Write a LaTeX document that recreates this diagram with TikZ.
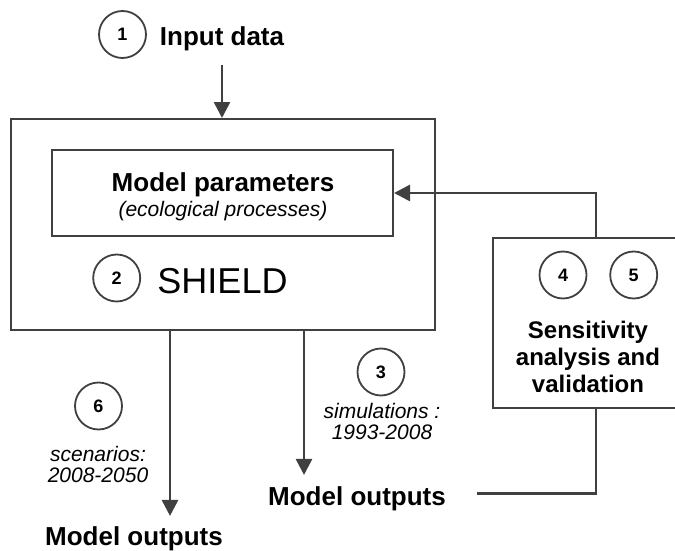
\documentclass[tikz,border=0pt]{standalone}
\usepackage{fontspec}
\setmainfont{Liberation Sans}
\usetikzlibrary{arrows.meta}
\definecolor{linegray}{HTML}{404040}

\tikzset{
  numcirc/.style={circle, draw=linegray, line width=1.8pt, minimum size=47pt, inner sep=0pt, font=\fontsize{18}{18}\selectfont\bfseries},
  frame/.style={rectangle, draw=linegray, line width=2pt, inner sep=0pt},
  head/.style={inner sep=0pt, anchor=base, font=\fontsize{26}{27}\selectfont\bfseries},
  note/.style={inner sep=0pt, anchor=base, align=center, font=\fontsize{21}{21}\selectfont\itshape},
  flow/.style={draw=linegray, line width=2.7pt, -{Triangle[width=16pt,length=16pt]}},
  link/.style={draw=linegray, line width=2.7pt},
}

\begin{document}
\begin{tikzpicture}[x=1pt, y=-1pt]
  \useasboundingbox (0,0) rectangle (675,551);
  % Boxes
  \node[frame, minimum width=424pt, minimum height=211pt] (model) at (223,224.5) {};
  \node[frame, minimum width=341pt, minimum height=86pt] (params) at (222.5,193) {};
  \node[frame, minimum width=187pt, minimum height=170pt] (sens) at (586.5,322.5) {};
  % Texts
  \node[head] (input) at (222,46) {Input data};
  \node[head] (paramtxt) at (223,191) {Model parameters};
  \node[note] (ecotxt) at (223,216) {(ecological processes)};
  \node[inner sep=0pt, anchor=base, font=\fontsize{36}{36}\selectfont] (shield) at (222.5,293) {SHIELD};
  \node[head, align=center, font=\fontsize{24}{27}\selectfont\bfseries] (senstxt) at (588,392) {Sensitivity\\analysis and\\validation};
  \node[note] (simtxt) at (382,439) {simulations :\\1993-2008};
  \node[note] (scentxt) at (98,482) {scenarios:\\2008-2050};
  \node[head] (simout) at (357,505) {Model outputs};
  \node[head] (scenout) at (134,545) {Model outputs};
  % Step numbers
  \foreach \n/\x/\y in {1/122.5/34.5, 2/116.7/278, 3/381/372, 4/563/275, 5/633.7/275, 6/98.5/406}
    \node[numcirc] (c\n) at (\x,\y) {\n};
  % Connections
  \coordinate (scenx) at (170,0);
  \coordinate (simx) at (304,0);
  \coordinate (fbx) at (596,0);
  \draw[flow, shorten <=13pt] (input.south) -- (input.south |- model.north);
  \draw[flow] (sens.north -| fbx) |- (params.east);
  \draw[flow, shorten >=10pt] (model.south -| scenx) -- (scenx |- scenout.north);
  \draw[flow, shorten >=11pt] (model.south -| simx) -- (simx |- simout.north);
  \draw[link] ([xshift=31pt,yshift=5pt]simout.east) -| (sens.south -| fbx);
\end{tikzpicture}
\end{document}
